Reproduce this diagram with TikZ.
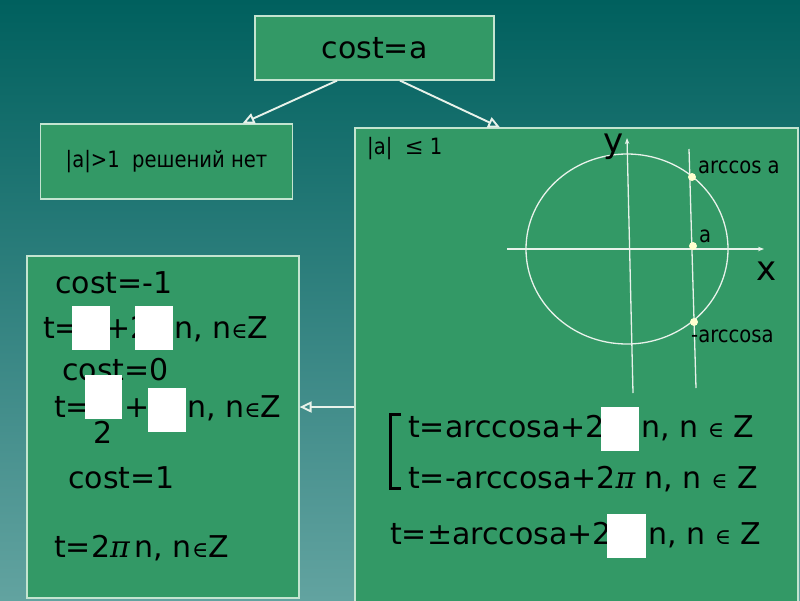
\documentclass[tikz,border=0pt]{standalone}
\usepackage{fontspec}
\setmainfont{DejaVu Sans}
\newfontfamily\symf{DejaVu Serif}
\newfontfamily\smallf[FakeStretch=0.87]{DejaVu Sans}
\usetikzlibrary{arrows.meta}
\definecolor{bgtop}{HTML}{00605E}
\definecolor{bgbot}{HTML}{62A3A0}
\definecolor{boxgreen}{HTML}{339966}
\definecolor{boxline}{HTML}{C4E4D0}
\definecolor{lineW}{HTML}{E8F2EA}
\definecolor{dotY}{HTML}{FFFFD0}
\newcommand{\piit}{{\symf\itshape π}}
\newcommand{\elem}{{\symf\fontsize{22}{24}\selectfont ∈}}
\begin{document}
\begin{tikzpicture}[x=1pt,y=-1pt,
  box/.style={draw=boxline,line width=1.2pt,fill=boxgreen,inner sep=0pt},
  big/.style={font=\fontsize{30}{36}\selectfont,inner sep=0pt,text=black},
  small/.style={font=\smallf\fontsize{22.5}{26}\selectfont,inner sep=0pt,text=black},
  huge/.style={font=\fontsize{34}{40}\selectfont,inner sep=0pt,text=black},
  arr/.style={draw=lineW,line width=1.9pt,-{Triangle[open,length=12pt,width=11pt]}},
  axis/.style={draw=lineW,line width=1.3pt,-{Stealth[length=6pt,width=4.5pt]}},
  ln/.style={draw=lineW,line width=1.3pt},
  dot/.style={circle,fill=dotY,inner sep=0pt,minimum size=8pt},
  hide/.style={fill=white}]
\useasboundingbox (0,0) rectangle (800,600);
\clip (0,0) rectangle (800,600);
\shade[top color=bgtop,bottom color=bgbot] (0,0) rectangle (800,600);

% boxes
\node[box,big,minimum width=239pt,minimum height=64pt] (top) at (374.5,48) {cost=a};
\node[box,small,minimum width=252pt,minimum height=75pt] (sbox) at (166.5,161.5) {|a|>1\ \ решений нет};
\node[box,minimum width=443pt,minimum height=490pt] (rbox) at (576.5,373) {};
\node[box,minimum width=272pt,minimum height=342pt] (lbox) at (163,427) {};

% connectors
\draw[arr] ([xshift=-37.5pt]top.south) -- ([xshift=76pt]sbox.north);
\draw[arr] ([xshift=25.5pt]top.south) -- ([xshift=-76.5pt]rbox.north);
\coordinate (ay) at (0,407);
\draw[arr] (rbox.west |- ay) -- (lbox.east |- ay);

% unit circle diagram
\draw[ln] (627,249) ellipse [x radius=101, y radius=95];
\draw[axis] (507,249) -- (764,249);
\draw[axis] (633,393) -- (627,138);
\draw[ln] (696,388) -- (689,149);
\node[dot] (p1) at (692,177) {};
\node[dot] (p2) at (693,246) {};
\node[dot] (p3) at (694,322) {};
\node[small,anchor=base west] (lp1) at (698,173) {arccos a};
\node[small,anchor=base west] (lp2) at (699,242) {a};
\node[small,anchor=base west] (lp3) at (691,342) {-arccosa};
\node[huge,anchor=base west] (lx) at (756,280) {x};
\node[huge,anchor=base west] (ly) at (603,152) {y};
\node[small,anchor=base west] (cond) at (367,154) {|a|\ \ {\symf ≤} 1};

% left box texts
\node[big,anchor=base west] (c1) at (55,293) {cost=-1};
\node[big,anchor=base west] (t1a) at (43,338) {t=};
\node[big,anchor=base west] (t1b) at (105,338) {+2};
\node[big,anchor=base west] (t1c) at (174,338) {n, n\elem Z};
\node[big,anchor=base west] (c0) at (62,380) {cost=0};
\node[big,anchor=base west] (t2a) at (54,417) {t=};
\node[big,anchor=base west] (t2d) at (93,443) {2};
\node[big,anchor=base west] (t2b) at (124,417) {+};
\node[big,anchor=base west] (t2c) at (187,417) {n, n\elem Z};
\node[big,anchor=base west] (c2) at (68,488) {cost=1};
\node[big,anchor=base west] (t3) at (54,557) {t=2\piit\,n, n\elem Z};

% right box formulas
\draw[line width=3pt,line cap=butt] (401,414.5) -- (390,414.5) -- (390,488) -- (401,488);
\node[big,anchor=base west] (f1a) at (408,437) {t=arccosa+2};
\node[big,anchor=base west] (f1b) at (641,437) {n, n \elem\ Z};
\node[big,anchor=base west] (f2) at (408,488) {t=-arccosa+2\piit\ n, n \elem\ Z};
\node[big,anchor=base west] (f3a) at (390,544) {t={\symf ±}arccosa+2};
\node[big,anchor=base west] (f3b) at (648,544) {n, n \elem\ Z};

% white cover boxes
\fill[hide] (72,306) rectangle (110,350);
\fill[hide] (135,306) rectangle (173,350);
\fill[hide] (85,375) rectangle (122,419);
\fill[hide] (148,388) rectangle (186,432);
\fill[hide] (601,407) rectangle (639,451);
\fill[hide] (607,514) rectangle (646,558);
\end{tikzpicture}
\end{document}
